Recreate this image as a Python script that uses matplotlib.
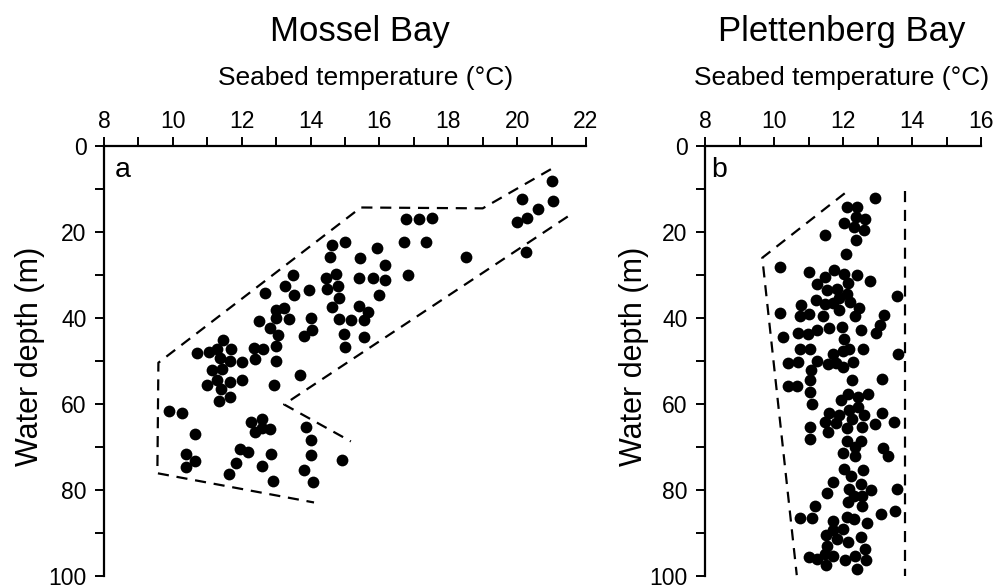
import matplotlib
matplotlib.use("Agg")
import matplotlib.pyplot as plt
from matplotlib.ticker import MultipleLocator

plt.rcParams['font.family'] = ['Liberation Sans', 'DejaVu Sans']

# ---- Data: Mossel Bay (temperature °C, depth m)
mossel_temp = [21.0, 21.05, 20.15, 20.6, 20.3, 20.0, 20.25, 16.77, 17.15, 17.52, 16.7, 17.36, 18.52, 16.83,
               15.0, 14.62, 14.55, 15.93, 15.44, 16.17, 13.48, 14.44, 14.75, 15.4, 15.8, 16.15, 13.52, 13.96,
               14.49, 14.81, 14.84, 16.0, 14.61, 15.4, 15.68, 14.0, 14.03, 14.82, 15.18, 15.55, 13.81, 14.98,
               15.54, 15.0, 13.27, 12.68, 12.99, 13.22, 12.99, 13.36, 12.49, 12.81, 13.05, 12.99, 12.35, 12.63,
               12.38, 13.01, 13.68, 12.95, 11.46, 11.28, 11.69, 10.7, 11.06, 11.38, 11.67, 12.02, 11.13, 11.44,
               11.27, 11.65, 12.02, 10.99, 11.4, 11.35, 11.66, 9.9, 10.27, 10.63, 10.37, 10.63, 10.37, 12.26,
               12.58, 12.38, 12.6, 12.82, 11.95, 12.19, 12.86, 11.83, 11.64, 12.59, 12.9, 13.88, 14.01, 14.01,
               13.81, 14.07, 14.9]
mossel_depth = [8.2, 12.8, 12.3, 14.6, 16.8, 17.7, 24.7, 17.0, 17.0, 16.7, 22.3, 22.3, 25.7, 30.0,
                22.3, 23.1, 25.8, 23.7, 26.0, 27.6, 30.1, 30.7, 29.8, 30.7, 30.7, 31.2, 34.6, 33.6,
                33.2, 32.5, 35.3, 34.7, 37.4, 37.2, 38.6, 40.0, 42.7, 40.2, 40.5, 40.5, 44.2, 43.8,
                44.4, 46.8, 32.6, 34.3, 38.2, 37.6, 40.1, 40.2, 40.8, 42.4, 44.0, 46.4, 46.9, 47.2,
                49.5, 50.0, 53.3, 55.6, 45.0, 47.2, 47.2, 48.2, 47.8, 49.2, 50.0, 50.3, 52.1, 51.8,
                54.5, 54.9, 54.5, 55.6, 56.6, 59.3, 58.4, 61.7, 62.2, 66.9, 71.6, 73.2, 74.7, 64.3,
                63.5, 66.4, 65.6, 65.7, 70.4, 71.2, 71.6, 73.7, 76.2, 74.4, 78.0, 65.3, 68.3, 71.9,
                75.4, 78.2, 73.0]

# envelope lines (dashed) for Mossel Bay
mossel_env1_t = [20.98, 19.0, 15.46, 9.58, 9.55, 14.1]
mossel_env1_d = [5.4, 14.5, 14.3, 50.4, 76.1, 82.9]
mossel_env2_t = [21.47, 13.23, 15.17]
mossel_env2_d = [16.4, 60.1, 68.7]

# ---- Data: Plettenberg Bay
plett_temp = [12.93, 12.11, 12.4, 12.37, 12.65, 12.04, 12.33, 12.61, 11.49, 12.39, 12.08, 10.17, 11.02, 11.75,
              12.02, 12.41, 11.49, 12.78, 11.25, 12.14, 11.55, 11.83, 12.12, 11.88, 11.23, 11.49, 11.7, 12.2,
              10.79, 12.47, 11.88, 13.56, 10.16, 10.75, 11.02, 11.42, 12.35, 13.2,
              11.98, 11.6, 11.26, 10.7, 10.99, 10.25, 12.51, 13.07, 12.96, 12.02, 10.75, 11.04, 11.72, 11.99,
              12.17, 12.57, 13.58, 10.41, 10.7, 11.26, 11.56, 11.79, 12.01, 12.28, 11.08, 11.05, 12.27, 13.14,
              10.4, 10.67, 11.05, 11.11, 12.14, 12.43, 12.73, 11.94, 12.16, 12.43, 12.61, 11.59, 11.89, 12.27,
              13.13, 11.49, 11.79, 12.54, 12.93, 13.49, 11.05, 11.57, 12.11, 11.05, 12.11, 12.51, 12.34, 13.17,
              12.01, 12.35, 13.3,
              12.02, 12.59, 12.22, 11.72, 12.51, 13.56, 11.55, 12.17, 12.8, 12.32, 12.55, 12.14, 12.54, 11.2,
              13.52, 13.09, 10.75, 11.11, 12.11, 12.32, 12.7, 11.72, 12.01, 11.7, 11.51, 11.82, 12.14, 12.51,
              11.55, 12.64, 11.48, 11.72, 11.02, 11.26, 11.51, 12.07, 12.35, 12.66, 12.4]
plett_depth = [12.0, 14.3, 14.3, 16.6, 17.0, 17.9, 18.9, 19.6, 20.8, 21.8, 25.2, 28.1, 29.2, 28.8,
               29.7, 30.0, 30.5, 31.5, 32.2, 31.9, 33.4, 33.3, 34.5, 35.4, 35.7, 36.8, 36.4, 36.3,
               37.0, 37.6, 38.1, 34.9, 38.9, 39.5, 39.0, 39.5, 39.5, 39.3,
               42.0, 42.4, 42.7, 43.4, 43.7, 44.4, 42.7, 41.7, 43.6, 44.8, 47.2, 47.2, 48.3, 47.6,
               47.3, 47.1, 48.3, 50.4, 50.2, 50.0, 50.7, 50.4, 51.4, 50.2, 52.0, 54.5, 54.5, 54.3,
               55.9, 55.7, 57.1, 59.9, 57.7, 58.3, 57.7, 59.0, 61.3, 60.8, 62.5, 62.2, 62.5, 63.6,
               62.2, 64.3, 64.4, 65.3, 64.6, 64.3, 65.3, 66.4, 65.6, 68.1, 68.7, 68.7, 69.9, 70.2,
               71.4, 72.0, 72.2,
               75.1, 75.4, 76.7, 78.2, 78.6, 79.7, 80.7, 79.7, 80.1, 81.4, 81.4, 82.7, 83.8, 83.8,
               84.8, 85.6, 86.6, 86.6, 86.3, 86.8, 87.6, 87.2, 89.1, 89.3, 90.4, 91.5, 92.1, 91.0,
               93.0, 93.7, 94.9, 95.3, 95.5, 96.0, 97.4, 96.3, 95.3, 96.3, 98.4]

plett_env1_t = [12.05, 9.66, 10.66]
plett_env1_d = [11.0, 26.0, 99.8]
plett_env2_t = [13.8, 13.8]
plett_env2_d = [10.4, 100.0]

W, H = 1005, 588
fig = plt.figure(figsize=(W / 100, H / 100), dpi=100)

def px_axes(x0, x1, y0, y1):
    return fig.add_axes([x0 / W, 1 - y1 / H, (x1 - x0) / W, (y1 - y0) / H])

def ftext(x, y, s, **kw):
    fig.text(x / W, 1 - y / H, s, **kw)

ax1 = px_axes(104, 586, 146, 576)
ax2 = px_axes(705, 981, 146, 576)

def style(ax, xmax, letter):
    ax.set_xlim(8, xmax)
    ax.set_ylim(100, 0)
    ax.xaxis.tick_top()
    ax.spines['right'].set_visible(False)
    ax.spines['bottom'].set_visible(False)
    for s in ('top', 'left'):
        ax.spines[s].set_linewidth(1.6)
    ax.xaxis.set_major_locator(MultipleLocator(2))
    ax.xaxis.set_minor_locator(MultipleLocator(1))
    ax.yaxis.set_major_locator(MultipleLocator(20))
    ax.yaxis.set_minor_locator(MultipleLocator(10))
    ax.tick_params(axis='both', which='both', direction='out', width=1.4, length=6.5,
                   labelsize=16.5)
    ax.tick_params(axis='x', which='both', pad=3)
    ax.tick_params(axis='y', which='both', pad=6)
    ax.text(0.022, 0.928, letter, transform=ax.transAxes, fontsize=20.5, va='baseline', ha='left')

ax1.scatter(mossel_temp, mossel_depth, s=72, color='black', zorder=3, linewidths=0)
ax1.plot(mossel_env1_t, mossel_env1_d, color='black', lw=1.6, dashes=(5, 3.5))
ax1.plot(mossel_env2_t, mossel_env2_d, color='black', lw=1.6, dashes=(5, 3.5))
style(ax1, 22, 'a')

ax2.scatter(plett_temp, plett_depth, s=72, color='black', zorder=3, linewidths=0)
ax2.plot(plett_env1_t, plett_env1_d, color='black', lw=1.6, dashes=(5, 3.5))
ax2.plot(plett_env2_t, plett_env2_d, color='black', lw=1.6, dashes=(5, 3.5))
style(ax2, 16, 'b')

# titles and axis labels
ftext(360, 41, 'Mossel Bay', fontsize=25, ha='center', va='baseline')
ftext(842, 41, 'Plettenberg Bay', fontsize=25, ha='center', va='baseline')
ftext(366, 85, 'Seabed temperature (°C)', fontsize=19, ha='center', va='baseline')
ftext(842, 85, 'Seabed temperature (°C)', fontsize=19, ha='center', va='baseline')
ftext(30, 356, 'Water depth (m)', fontsize=22, ha='center', va='center', rotation=90)
ftext(634, 356, 'Water depth (m)', fontsize=22, ha='center', va='center', rotation=90)

fig.savefig('out.png', dpi=100)
